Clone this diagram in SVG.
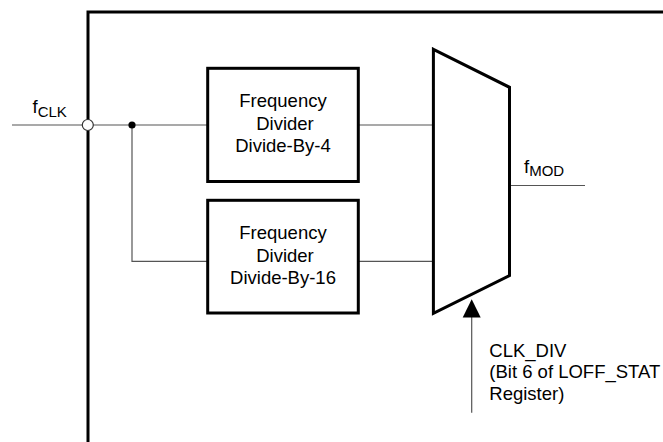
<svg xmlns="http://www.w3.org/2000/svg" width="663" height="442" viewBox="0 0 663 442">
<style>
.thick{fill:none;stroke:#000;stroke-width:3;stroke-linejoin:miter}
.box{fill:#fff;stroke:#000;stroke-width:3}
.wire{fill:none;stroke:#555;stroke-width:1.2}
.lbl{font-family:"Liberation Sans",Arial,sans-serif;font-size:18.5px;fill:#000}
.sub{font-size:15px}
</style>
<defs>
<marker id="arr" markerWidth="18" markerHeight="18" viewBox="0 0 18 18" refX="9" refY="0" orient="auto-start-reverse" markerUnits="userSpaceOnUse">
<path d="M0,18 L9,0 L18,18 Z" fill="#000"/>
</marker>
</defs>
<g id="frame">
<path class="thick" d="M88,442 V12 H663"/>
</g>
<g id="connectors">
<path class="wire" d="M12,125 H207.7"/>
<path class="wire" d="M132,125 V261.3 H207.7"/>
<path class="wire" d="M358.3,125 H433.4"/>
<path class="wire" d="M358.3,261.3 H433.4"/>
<path class="wire" d="M509.5,185.5 H585"/>
<path class="wire" d="M471.7,412.7 V317" />
<path d="M462.7,317.5 L471.7,299.3 L480.7,317.5 Z" fill="#000"/>
<circle cx="87.8" cy="125" r="5.5" fill="#fff" stroke="#333" stroke-width="1.2"/>
<circle cx="132" cy="125" r="3.6" fill="#000"/>
</g>
<g id="fclk">
<text class="lbl" x="32.5" y="113">f<tspan class="sub" dy="4">CLK</tspan></text>
</g>
<g id="div4">
<rect class="box" x="207.7" y="68.3" width="150.6" height="113.2"/>
<text class="lbl" text-anchor="middle" x="283" y="106.7">Frequency</text>
<text class="lbl" text-anchor="middle" x="285" y="129.5">Divider</text>
<text class="lbl" text-anchor="middle" x="283" y="152">Divide-By-4</text>
</g>
<g id="div16">
<rect class="box" x="207.7" y="200.3" width="150.6" height="112.7"/>
<text class="lbl" text-anchor="middle" x="283" y="239">Frequency</text>
<text class="lbl" text-anchor="middle" x="285" y="262">Divider</text>
<text class="lbl" text-anchor="middle" x="283" y="284">Divide-By-16</text>
</g>
<g id="mux">
<path class="thick" d="M433.4,49.3 L509.5,87.3 V275.5 L433.4,313.3 Z"/>
</g>
<g id="fmod">
<text class="lbl" x="524" y="173">f<tspan class="sub" dy="3">MOD</tspan></text>
</g>
<g id="clkdiv">
<text class="lbl" x="489.3" y="356.7">CLK_DIV</text>
<text class="lbl" x="489.3" y="378.3">(Bit 6 of LOFF_STAT</text>
<text class="lbl" x="489.3" y="399.5">Register)</text>
</g>
</svg>
